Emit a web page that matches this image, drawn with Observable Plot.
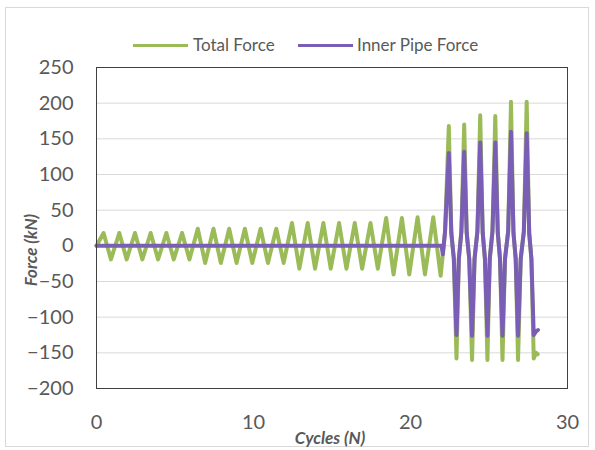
<!DOCTYPE html>
<html>
<head>
<meta charset="utf-8">
<script src="https://cdn.jsdelivr.net/npm/d3@7"></script>
<script src="https://cdn.jsdelivr.net/npm/@observablehq/plot@0.6"></script>
<style>
  html, body { margin: 0; padding: 0; background: #fff; }
  #wrap { position: relative; width: 595px; height: 450px; overflow: hidden; font-family: Lato, "Open Sans", sans-serif; color: #595959; }
  #border { position: absolute; left: 5px; top: 7px; width: 584px; height: 440px; border: 1px solid #d9d9d9; box-sizing: border-box; }
  .leg-line { position: absolute; height: 3px; }
  .leg-text { position: absolute; font-size: 17px; line-height: 17px; white-space: nowrap; }
  #ytitle { position: absolute; left: 30px; top: 250px; transform: translate(-50%, -50%) rotate(-90deg); font-size: 17px; font-weight: bold; font-style: italic; white-space: nowrap; }
  #xtitle { position: absolute; left: 330px; top: 437px; transform: translate(-50%, -50%); font-size: 17px; font-weight: bold; font-style: italic; white-space: nowrap; }
  #chart { position: absolute; left: 0; top: 0; }
</style>
</head>
<body>
<div id="wrap">
  <div id="border"></div>
  <div id="chart"></div>
  <div class="leg-line" style="left:133px; top:44px; width:55px; background:#9BBB59;"></div>
  <div class="leg-text" style="left:193px; top:36px;">Total Force</div>
  <div class="leg-line" style="left:298px; top:44px; width:55px; background:#7A5DB5;"></div>
  <div class="leg-text" style="left:357px; top:36px;">Inner Pipe Force</div>
  <div id="ytitle">Force (kN)</div>
  <div id="xtitle">Cycles (N)</div>
</div>
<script>
const seriesNames = ["Total Force", "Inner Pipe Force"];
const xTicks = [0, 10, 20, 30];
const yTicks = [-200, -150, -100, -50, 0, 50, 100, 150, 200, 250];

const totalN = [0, 0.45, 0.92, 1.45, 1.92, 2.45, 2.92, 3.45, 3.92, 4.45, 4.92, 5.45, 5.92,
  6.45, 6.92, 7.45, 7.92, 8.45, 8.92, 9.45, 9.92, 10.45, 10.92, 11.45, 11.92,
  12.45, 12.92, 13.45, 13.92, 14.45, 14.92, 15.45, 15.92, 16.45, 16.92, 17.45, 17.92,
  18.45, 18.92, 19.45, 19.92, 20.45, 20.92, 21.45, 21.92,
  22.06, 22.20, 22.44, 22.60, 22.76, 22.93, 23.08, 23.24, 23.42, 23.58, 23.74, 23.92,
  24.08, 24.26, 24.44, 24.60, 24.74, 24.90, 25.05, 25.22, 25.40, 25.56, 25.70, 25.86,
  26.02, 26.22, 26.40, 26.56, 26.70, 26.85, 27.02, 27.22, 27.40, 27.56, 27.70, 27.85, 28.0, 28.1];
const totalF = [0, 18, -19, 18, -19, 18, -19, 18, -19, 18, -19, 18, -19,
  24, -24, 24, -24, 24, -24, 24, -24, 24, -24, 24, -24,
  32, -32, 32, -32, 32, -32, 32, -32, 32, -32, 32, -32,
  39, -40, 39, -40, 40, -40, 40, -42,
  -12, 20, 168, 18, -18, -158, -18, 20, 170, 18, -18, -160,
  -18, 20, 183, 18, -18, -160, -18, 20, 182, 18, -18, -160,
  -18, 20, 202, 18, -18, -160, -18, 20, 202, 18, -18, -158, -150, -152];

const innerN = [0, 21.98,
  22.06, 22.20, 22.44, 22.60, 22.76, 22.93, 23.08, 23.24, 23.42, 23.58, 23.74, 23.92,
  24.08, 24.26, 24.44, 24.60, 24.74, 24.90, 25.05, 25.22, 25.40, 25.56, 25.70, 25.86,
  26.02, 26.22, 26.40, 26.56, 26.70, 26.85, 27.02, 27.22, 27.40, 27.56, 27.70, 27.85, 28.0, 28.12];
const innerF = [0, 0,
  -12, 20, 130, 18, -18, -125, -18, 20, 132, 18, -18, -126,
  -18, 20, 145, 18, -18, -126, -18, 20, 145, 18, -18, -126,
  -18, 20, 160, 18, -18, -126, -18, 20, 158, 18, -18, -125, -120, -118];

const colors = ["#9BBB59", "#7A5DB5"];

const total = totalN.map((n, i) => ({n, f: totalF[i], s: seriesNames[0]}));
const inner = innerN.map((n, i) => ({n, f: innerF[i], s: seriesNames[1]}));

const chart = Plot.plot({
  width: 595,
  height: 450,
  marginLeft: 96,
  marginRight: 28,
  marginTop: 67,
  marginBottom: 62,
  style: { fontFamily: "Lato, 'Open Sans', sans-serif", fontSize: "20px", color: "#595959", background: "transparent" },
  x: { domain: [0, 30] },
  y: { domain: [-200, 250] },
  marks: [
    Plot.gridY(yTicks, { stroke: "#d9d9d9", strokeOpacity: 1, strokeWidth: 1 }),
    Plot.axisY(yTicks, { tickSize: 0, tickPadding: 23, label: null, fontSize: 20 }),
    Plot.axisX(xTicks, { tickSize: 0, tickPadding: 26, label: null, fontSize: 20 }),
    Plot.line(total, { x: "n", y: "f", stroke: colors[0], strokeWidth: 4, curve: "linear" }),
    Plot.line(inner, { x: "n", y: "f", stroke: colors[1], strokeWidth: 4, curve: "linear" }),
    Plot.frame({ stroke: "#404040", strokeWidth: 1 })
  ]
});
document.getElementById("chart").appendChild(chart);
</script>
</body>
</html>
